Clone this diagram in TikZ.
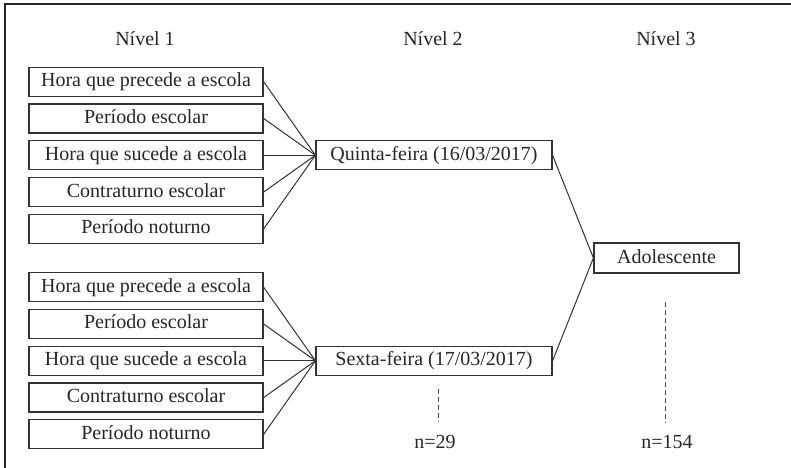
\documentclass[tikz,border=0pt]{standalone}
\usepackage{fontspec}
\setmainfont{Liberation Serif}

\begin{document}
\begin{tikzpicture}[x=0.5pt,y=-0.5pt]
   \tikzstyle{level 1}=[sibling distance=102.75pt, level distance=116.25pt]
   \tikzstyle{level 2}=[sibling distance=18.4pt, level distance=144pt]
   \tikzstyle{caixa}=[draw=black!80, line width=0.6pt, text=black!85, inner sep=0pt, text height=7pt, text depth=2pt]
   \tikzstyle{nivel}=[text=black!85]
   \tikzstyle{every child}=[edge from parent/.style={draw=black!80, line width=0.5pt}]
   \useasboundingbox (0,0) rectangle (791,467);
   \clip (0,0) rectangle (791,467);
   \draw[line width=1pt, black!85] (5,4) rectangle (830,500);

\node[nivel] (n1) at (145,38.5) {Nível 1};
\node[nivel] (n2) at (433,38.5) {Nível 2};
\node[nivel] (n3) at (666,38.5) {Nível 3};

\node[caixa, minimum width=72.5pt, minimum height=15pt] (adol) at (666.5,258) {Adolescente}
    [grow=left, edge from parent path={(\tikzparentnode.west) -- (\tikzchildnode.east)}]
    child {node[caixa, minimum width=118pt, minimum height=14.5pt] (qui) {Quinta-feira (16/03/2017)}
        child {node[caixa, minimum width=117pt, minimum height=14.5pt] (q1) {Hora que precede a escola}}
        child {node[caixa, minimum width=117pt, minimum height=14.5pt] (q2) {Período escolar}}
        child {node[caixa, minimum width=117pt, minimum height=14.5pt] (q3) {Hora que sucede a escola}}
        child {node[caixa, minimum width=117pt, minimum height=14.5pt] (q4) {Contraturno escolar}}
        child {node[caixa, minimum width=117pt, minimum height=14.5pt] (q5) {Período noturno}}
    }
    child {node[caixa, minimum width=118pt, minimum height=14.5pt] (sex) {Sexta-feira (17/03/2017)}
        child {node[caixa, minimum width=117pt, minimum height=14.5pt] (s1) {Hora que precede a escola}}
        child {node[caixa, minimum width=117pt, minimum height=14.5pt] (s2) {Período escolar}}
        child {node[caixa, minimum width=117pt, minimum height=14.5pt] (s3) {Hora que sucede a escola}}
        child {node[caixa, minimum width=117pt, minimum height=14.5pt] (s4) {Contraturno escolar}}
        child {node[caixa, minimum width=117pt, minimum height=14.5pt] (s5) {Período noturno}}
    };

\node[nivel] (tot2) at (435,442) {n=29};
\node[nivel] (tot3) at (667,442) {n=154};
\coordinate (d2) at (438,389);
\coordinate (d3) at (665,302);
\draw[black!70, line width=0.5pt, dash pattern=on 2.5pt off 1.5pt, shorten >=3pt] (d2) -- (d2 |- tot2.north);
\draw[black!70, line width=0.5pt, dash pattern=on 2.5pt off 1.5pt, shorten >=3pt] (d3) -- (d3 |- tot3.north);

\end{tikzpicture}
\end{document}
